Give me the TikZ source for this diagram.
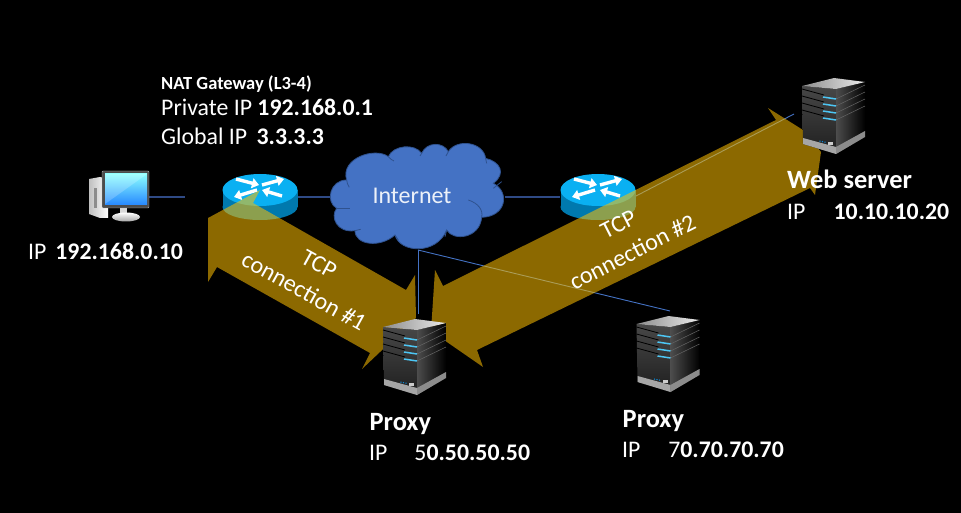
\documentclass[tikz,border=0pt]{standalone}
\usepackage{fontspec}
\setmainfont{Carlito}
\usetikzlibrary{arrows.meta}
\definecolor{cloudblue}{HTML}{4472C4}
\definecolor{cloudedge}{HTML}{2F528F}
\definecolor{linknavy}{HTML}{2F4A85}
\definecolor{routertop}{HTML}{0AB0F2}
\definecolor{routerside}{HTML}{0079AE}
\definecolor{tunnel}{HTML}{FFC000}
\tikzstyle{link}=[draw=linknavy, line width=1.2pt]
\tikzstyle{thinlink}=[draw=cloudblue, line width=0.9pt]
\tikzstyle{tcparrow}=[fill=tunnel, fill opacity=0.55, draw=none]
\tikzstyle{routerbox}=[minimum width=75pt, minimum height=46pt, inner sep=0pt]
\tikzstyle{serverbox}=[minimum width=63pt, minimum height=77pt, inner sep=0pt]
\tikzstyle{routerarrow}=[white, line width=3.4pt, -{Triangle[length=7pt,width=10pt]}]
\tikzstyle{label}=[text=white, anchor=base west, inner sep=0pt, font=\fontsize{23.8}{28}\selectfont]
\tikzstyle{title}=[text=white, anchor=base west, inner sep=0pt, font=\fontsize{26.4}{30}\selectfont\bfseries]
\tikzstyle{tcptext}=[text=white, align=center, inner sep=0pt, font=\fontsize{24}{31}\selectfont]
\tikzset{
  routerpic/.pic={
    \fill[routerside] (-37.5,-7) rectangle (37.5,10);
    \fill[routerside] (0,10) ellipse [x radius=37.5, y radius=13];
    \fill[routertop] (0,-7) ellipse [x radius=37.5, y radius=16];
    \draw[routerarrow] (-24,-18) -- (-1,-12);
    \draw[routerarrow] (2,-12) -- (24,-18);
    \draw[routerarrow] (-3,-7) -- (-26,0);
    \draw[routerarrow] (22,-1) -- (2,-7);
  },
  serverpic/.pic={
    % body, origin at the centre of the box
    \begin{scope}[shift={(-31.5,-38.5)}]
    \shade[top color=black!72, bottom color=black!88] (0,8) -- (34,11) -- (34,76) -- (1,66) -- cycle;
    \shade[left color=black!70, right color=black] (34,11) -- (63,4) -- (63,59) -- (34,76) -- cycle;
    \shade[left color=black!45, right color=white!92!black] (0,8) -- (32,0) -- (63,4) -- (34,11) -- cycle;
    \fill[black!35] (1,60) -- (34,69) -- (34,76) -- (1,66) -- cycle;
    \fill[black!45] (34,69) -- (63,53) -- (63,59) -- (34,76) -- cycle;
    \foreach \y/\z in {19/14,26/21,33/28,40/35}{
      \draw[black, line width=0.8pt] (0,\z-3) -- (22,\y-2);
      \draw[black!60, line width=0.5pt] (34,\y+2) -- (63,\y-12);
      \draw[cyan!70!white, line width=1.5pt] (21,\y) -- (34,\y+2);
    }
    \foreach \x in {18,20.5,23}{
      \fill[cyan!70!blue] (\x,63+\x*0.2-3.5) circle (0.8);
    }
    \fill[white!80!black] (26,64) rectangle (31,67);
    \end{scope}
  }
}
\begin{document}
\begin{tikzpicture}[x=1pt,y=-1pt]
\path[use as bounding box, fill=black] (0,0) rectangle (961,513);

\node[minimum width=47pt, minimum height=37pt, inner sep=0pt](client)at (125.5,189.5){};
\node[routerbox](gateway)at (260,197){};
\node[minimum width=175pt, minimum height=107pt, inner sep=0pt](internet)at (417.5,197){};
\node[routerbox](router)at (598,197){};
\node[serverbox](proxyone)at (414.5,357.5){};
\node[serverbox](proxytwo)at (668,354.5){};
\node[serverbox](webserver)at (833.5,116.5){};
\coordinate (clientend) at (184.5,197);
\coordinate (proxyoneend) at (418,314);
\coordinate (proxytwoend) at (670,311);
\coordinate (webend) at (794,114);
\coordinate (cloudfoot) at (418,250);
\coordinate (routerright) at (636,196);

% connectors
\draw [link](client.east |- clientend) -- (clientend);
\draw [link](gateway.east) -- (internet.west);
\draw [link](internet.east) -- (router.west);
\draw [thinlink](cloudfoot) -- (proxyoneend);
\draw [thinlink](cloudfoot) -- (proxytwoend);
\draw [thinlink](routerright) -- (webend);

% cloud
\draw[fill=cloudblue, draw=cloudedge, line width=0.8pt, shift={(320,130)}, x=0.3333pt, y=-0.3333pt]
  (80,150) .. controls (60,85) and (165,50) .. (205,80)
  .. controls (220,45) and (285,40) .. (305,70)
  .. controls (320,35) and (370,35) .. (385,65)
  .. controls (410,25) and (490,35) .. (497,85)
  .. controls (540,95) and (560,130) .. (520,160)
  .. controls (570,185) and (560,260) .. (485,262)
  .. controls (480,325) and (400,335) .. (380,300)
  .. controls (350,375) and (240,370) .. (225,315)
  .. controls (180,355) and (105,345) .. (105,302)
  .. controls (50,310) and (30,260) .. (50,235)
  .. controls (15,215) and (30,150) .. (80,150) -- cycle;
\begin{scope}[draw=cloudedge, line width=0.8pt, shift={(320,130)}, x=0.3333pt, y=-0.3333pt]
\draw (80,150) .. controls (80,158) and (84,165) .. (88,172);
\draw (205,80) .. controls (210,86) and (215,90) .. (222,93);
\draw (305,70) -- (300,78);
\draw (385,65) -- (378,78);
\draw (497,85) -- (500,100);
\draw (545,155) -- (520,175);
\draw (445,210) .. controls (475,220) and (490,240) .. (485,262);
\draw (380,300) -- (375,320);
\draw (225,315) -- (235,330);
\draw (105,302) -- (122,298);
\draw (50,235) -- (90,235);
\end{scope}
\node[text=white!90!cloudblue, inner sep=0pt, anchor=base, font=\fontsize{24}{28}\selectfont](internetlabel)at (412,204){Internet};

% routers
\pic at (gateway) {routerpic};
\pic at (router) {routerpic};

% computer
\shade[left color=black!25, right color=white] (89,179) -- (100,177) -- (108,179) -- (108,218) -- (100,218) -- (89,214) -- cycle;
\fill[black!45] (94,188) rectangle (97,208);
\fill[black!15] (120,206) rectangle (127,214);
\shade[top color=white, bottom color=black!35] (126,217) ellipse [x radius=14, y radius=4.5];
\fill[black!70, draw=black!30, rounded corners=1pt] (102,171) rectangle (149,208);
\shade[top color=cyan!45!white, bottom color=blue!55!cyan!85!white] (105,174) rectangle (147,205);
\fill[white, opacity=0.2] (105,174) -- (147,174) -- (105,204) -- cycle;

% arrows
\fill[tcparrow] (208,218) -- (260,190) -- (253,203) -- (406,290) -- (415,275) -- (416,318)
  -- (362,369) -- (370,353) -- (217,267) -- (208,282) -- cycle;
\fill[tcparrow] (431,331) -- (435,270) -- (443,286) -- (776,120) -- (768,108) -- (803,130)
  -- (821,152) -- (815,195) -- (810,188) -- (477,350) -- (483,367) -- cycle;

% servers
\pic at (proxyone) {serverpic};
\pic at (proxytwo) {serverpic};
\pic at (webserver) {serverpic};

% texts
\node[label, font=\fontsize{18.5}{22}\selectfont\bfseries](gatewaytitle)at (161,89.5){NAT Gateway (L3-4)};
\node[label](gatewayprivate)at (161,116){Private IP \textbf{192.168.0.1}};
\node[label](gatewayglobal)at (161,145){Global IP\hspace{4pt} \textbf{3.3.3.3}};
\node[label](clientip)at (28,259){IP\hspace{3.5pt} \textbf{192.168.0.10}};
\node[title](webtitle)at (787,189){Web server};
\node[label](webip)at (787,220){IP\hspace{22.8pt} \textbf{10.10.10.20}};
\node[title](proxyonetitle)at (369.5,430){Proxy};
\node[label](proxyoneip)at (369,460){IP\hspace{21.6pt} 5\textbf{0.50.50.50}};
\node[title](proxytwotitle)at (622.5,427){Proxy};
\node[label](proxytwoip)at (622,457){IP\hspace{22.4pt} 7\textbf{0.70.70.70}};

\node[tcptext, rotate=-29](tcpone)at (311.5,278){TCP\\connection \#1};
\node[tcptext, rotate=27](tcptwo)at (625.5,238.5){TCP\\connection \#2};
\end{tikzpicture}
\end{document}
